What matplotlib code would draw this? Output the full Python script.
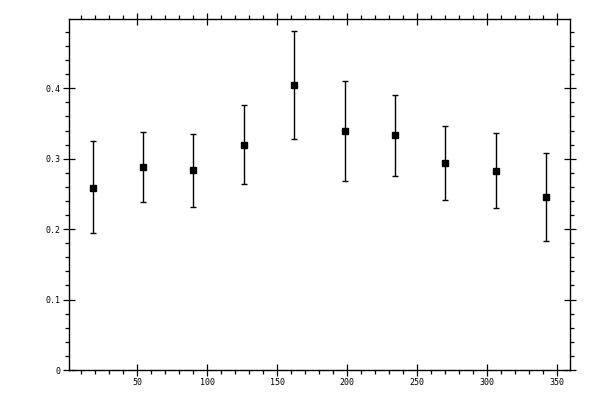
import matplotlib
matplotlib.use("Agg")
import matplotlib.pyplot as plt
from matplotlib.ticker import MultipleLocator, FuncFormatter

# values
x = [18, 54, 90, 126, 162, 198, 234, 270, 306, 342]
y = [0.259, 0.288, 0.284, 0.319, 0.404, 0.340, 0.333, 0.294, 0.282, 0.245]
y_low = [0.194, 0.238, 0.232, 0.264, 0.328, 0.269, 0.275, 0.241, 0.230, 0.183]
y_high = [0.325, 0.338, 0.335, 0.376, 0.482, 0.411, 0.390, 0.346, 0.336, 0.308]

err_lo = [v - lo for v, lo in zip(y, y_low)]
err_hi = [hi - v for v, hi in zip(y, y_high)]

fig = plt.figure(figsize=(6, 4), dpi=100)
ax = fig.add_axes([0.1155, 0.075, 0.835, 0.8768])

ax.errorbar(x, y, yerr=[err_lo, err_hi], fmt='s', color='black',
            markersize=5, elinewidth=1.0, capsize=2.5, capthick=1.0)

ax.set_xlim(1.4, 359.3)
ax.set_ylim(0, 0.498)

ax.xaxis.set_major_locator(MultipleLocator(50))
ax.xaxis.set_minor_locator(MultipleLocator(10))
ax.yaxis.set_major_locator(MultipleLocator(0.1))
ax.yaxis.set_minor_locator(MultipleLocator(0.02))
ax.yaxis.set_major_formatter(FuncFormatter(lambda v, p: f'{v:.1f}' if v > 1e-9 else '0'))

for side in ax.spines.values():
    side.set_linewidth(1.0)

ax.tick_params(which='major', direction='inout', length=8, width=0.9,
               top=True, right=True, labelsize=6, pad=2)
ax.tick_params(which='minor', direction='out', length=3, width=0.9,
               top=True, right=True)
for lab in ax.get_xticklabels() + ax.get_yticklabels():
    lab.set_family('DejaVu Sans Mono')

fig.savefig('out.png', dpi=100)
